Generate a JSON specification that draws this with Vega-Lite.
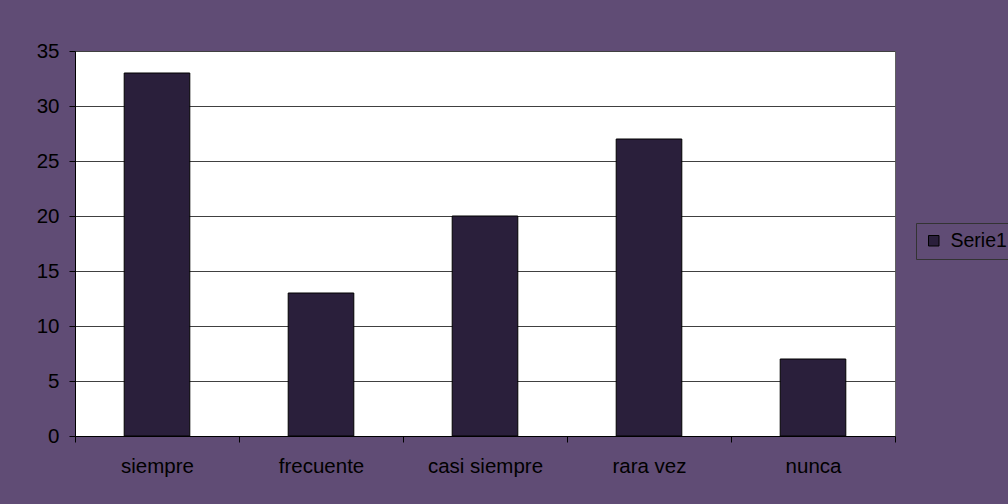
{
  "$schema": "https://vega.github.io/schema/vega-lite/v6.json",
  "width": 820,
  "height": 385,
  "autosize": {"type": "none"},
  "padding": {"left": 75, "top": 51, "right": 113, "bottom": 68},
  "background": "#604c75",
  "config": {
    "view": {"fill": "white", "stroke": "#606060", "strokeWidth": 1},
    "font": "Liberation Sans"
  },
  "data": {
    "values": [
      {"categoria": "siempre", "valor": 33, "serie": "Serie1"},
      {"categoria": "frecuente", "valor": 13, "serie": "Serie1"},
      {"categoria": "casi siempre", "valor": 20, "serie": "Serie1"},
      {"categoria": "rara vez", "valor": 27, "serie": "Serie1"},
      {"categoria": "nunca", "valor": 7, "serie": "Serie1"}
    ]
  },
  "mark": {"type": "bar", "stroke": "black", "strokeWidth": 1, "width": {"band": 0.4}},
  "encoding": {
    "x": {
      "field": "categoria",
      "type": "nominal",
      "sort": null,
      "scale": {"paddingInner": 0, "paddingOuter": 0},
      "axis": {
        "title": null,
        "labelAngle": 0,
        "ticks": true,
        "tickBand": "extent",
        "labelFont": "Liberation Sans",
        "labelFontSize": 20.5,
        "labelColor": "black",
        "labelPadding": 14,
        "domainColor": "black",
        "tickColor": "black",
        "tickWidth": 1,
        "tickSize": 6,
        "grid": false
      }
    },
    "y": {
      "field": "valor",
      "type": "quantitative",
      "scale": {"domain": [0, 35], "nice": false},
      "axis": {
        "title": null,
        "values": [0, 5, 10, 15, 20, 25, 30, 35],
        "labelFont": "Liberation Sans",
        "labelFontSize": 20.5,
        "labelColor": "black",
        "labelPadding": 10,
        "domainColor": "black",
        "tickColor": "black",
        "tickSize": 6,
        "gridColor": "#404040",
        "gridOpacity": 1,
        "gridWidth": 1
      }
    },
    "color": {
      "field": "serie",
      "type": "nominal",
      "scale": {"range": ["#2a1f3b"]},
      "legend": {
        "title": null,
        "orient": "none",
        "legendX": 841,
        "legendY": 172,
        "padding": 8,
        "strokeColor": "#333333",
        "fillColor": "#604c75",
        "symbolType": "square",
        "symbolSize": 110,
        "symbolStrokeColor": "black",
        "symbolStrokeWidth": 1,
        "labelFont": "Liberation Sans",
        "labelFontSize": 19.5,
        "labelColor": "black",
        "labelOffset": 7
      }
    }
  }
}
